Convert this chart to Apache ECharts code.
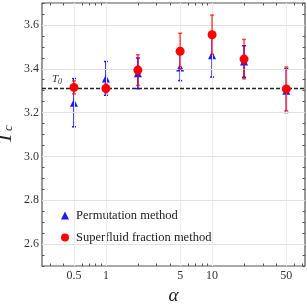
<!DOCTYPE html>
<html><head><meta charset="utf-8">
<script src="https://cdn.jsdelivr.net/npm/echarts@6/dist/echarts.min.js"></script>
<style>html,body{margin:0;padding:0;background:#fff}#c{width:307px;height:305px}</style>
</head><body><div id="c"></div>
<script>
const alphas = [0.5, 1, 2, 5, 10, 20, 50];
const permT = [3.245, 3.356, 3.379, 3.406, 3.462, 3.433, 3.300];
const permErr = [0.11, 0.077, 0.07, 0.06, 0.10, 0.072, 0.10];
const sfT = [3.315, 3.310, 3.394, 3.480, 3.555, 3.444, 3.308];
const sfErr = [0.03, 0.02, 0.07, 0.082, 0.09, 0.09, 0.10];
const T0 = 3.31;
const xTicks = [0.5, 1, 5, 10, 50];
const xMinorTicks = [0.3, 0.4, 0.6, 0.7, 0.8, 0.9, 2, 3, 4, 6, 7, 8, 9, 20, 30, 40, 60, 70];
const yTicks = [2.6, 2.8, 3.0, 3.2, 3.4, 3.6];
const yLabels = ['2.6', '2.8', '3.0', '3.2', '3.4', '3.6'];

const serif = '"Liberation Serif", "DejaVu Serif", serif';
const frame = '#555';
const chart = echarts.init(document.getElementById('c'), null, {renderer: 'canvas'});

function errSeries(vals, errs, color, lw, z) {
  return {
    type: 'custom', xAxisIndex: 0, yAxisIndex: 0, z: z, silent: true,
    data: alphas.map((a, i) => [a, vals[i] - errs[i], vals[i] + errs[i]]),
    encode: {x: 0, y: [1, 2]},
    renderItem: function (params, api) {
      const lo = api.coord([api.value(0), api.value(1)]);
      const hi = api.coord([api.value(0), api.value(2)]);
      const w = 2;
      const st = {stroke: color, lineWidth: lw};
      return {type: 'group', children: [
        {type: 'line', shape: {x1: lo[0], y1: lo[1], x2: hi[0], y2: hi[1]}, style: st},
        {type: 'line', shape: {x1: lo[0] - w, y1: lo[1], x2: lo[0] + w, y2: lo[1]}, style: st},
        {type: 'line', shape: {x1: hi[0] - w, y1: hi[1], x2: hi[0] + w, y2: hi[1]}, style: st}
      ]};
    }
  };
}

const xBase = {type: 'log', logBase: 10, min: 0.25, max: 75, gridIndex: 0};
const yBase = {type: 'value', min: 2.5, max: 3.7, gridIndex: 0};
const noLine = {show: false};

const option = {
  animation: false,
  backgroundColor: '#fff',
  grid: {left: 42, right: 2, top: 3, bottom: 39, containLabel: false, outerBoundsMode: 'none',
    show: true, borderColor: frame, borderWidth: 1.2, backgroundColor: 'transparent'},
  legend: {
    orient: 'vertical', left: 56, top: 204, itemGap: 9,
    itemWidth: 8, itemHeight: 8,
    textStyle: {fontFamily: serif, fontSize: 12.5, color: '#222', padding: [0, 0, 0, 2]},
    data: [{name: 'Permutation method', icon: 'triangle'}, {name: 'Superfluid fraction method', icon: 'circle'}]
  },
  xAxis: [
    Object.assign({}, xBase, {
      position: 'bottom',
      name: 'α', nameLocation: 'middle', nameGap: 20, nameMoveOverlap: false,
      nameTextStyle: {fontFamily: serif, fontStyle: 'italic', fontSize: 19, color: '#222'},
      axisLine: noLine, splitLine: noLine, minorTick: noLine,
      axisTick: {show: true, inside: true, length: 5, lineStyle: {color: frame}, customValues: xTicks},
      axisLabel: {show: true, margin: 4, fontFamily: serif, fontSize: 12, color: '#333', customValues: xTicks,
        formatter: v => String(+v.toPrecision(3))}
    }),
    Object.assign({}, xBase, {
      position: 'top', axisLine: noLine, splitLine: noLine, axisLabel: noLine,
      axisTick: {show: true, inside: true, length: 5, lineStyle: {color: frame}, customValues: xTicks}
    }),
    Object.assign({}, xBase, {
      position: 'bottom', axisLine: noLine, splitLine: noLine, axisLabel: noLine,
      axisTick: {show: true, inside: true, length: 2.5, lineStyle: {color: frame}, customValues: xMinorTicks}
    }),
    Object.assign({}, xBase, {
      position: 'top', axisLine: noLine, splitLine: noLine, axisLabel: noLine,
      axisTick: {show: true, inside: true, length: 2.5, lineStyle: {color: frame}, customValues: xMinorTicks}
    })
  ],
  yAxis: [
    Object.assign({}, yBase, {
      position: 'left',
      name: '{t|T}{s|c}', nameLocation: 'middle', nameGap: 26, nameRotate: 90, nameMoveOverlap: false,
      nameTextStyle: {rich: {
        t: {fontFamily: serif, fontStyle: 'italic', fontSize: 21, color: '#222'},
        s: {fontFamily: serif, fontStyle: 'italic', fontSize: 13, color: '#222', padding: [6, 0, 0, 1]}
      }},
      axisLine: noLine, splitLine: noLine,
      axisTick: {show: true, inside: true, length: 5, lineStyle: {color: frame}, customValues: yTicks},
      axisLabel: {show: true, margin: 3, fontFamily: serif, fontSize: 12, color: '#333', customValues: yTicks,
        formatter: v => yLabels[yTicks.findIndex(t => Math.abs(t - v) < 1e-6)] || ''}
    }),
    Object.assign({}, yBase, {
      position: 'right', axisLine: noLine, splitLine: noLine, axisLabel: noLine,
      axisTick: {show: true, inside: true, length: 5, lineStyle: {color: frame}, customValues: yTicks}
    }),
    Object.assign({}, yBase, {
      position: 'left', interval: 0.05, axisLine: noLine, splitLine: noLine, axisLabel: noLine,
      axisTick: {show: true, inside: true, length: 2.5, lineStyle: {color: frame}}
    }),
    Object.assign({}, yBase, {
      position: 'right', interval: 0.05, axisLine: noLine, splitLine: noLine, axisLabel: noLine,
      axisTick: {show: true, inside: true, length: 2.5, lineStyle: {color: frame}}
    })
  ],
  series: [
    {
      type: 'line', xAxisIndex: 0, yAxisIndex: 0, data: [], silent: true, z: 1,
      markLine: {
        silent: true, symbol: 'none', animation: false,
        label: {show: false},
        data: xTicks.map(v => ({xAxis: v, lineStyle: {color: '#ececec', width: 1, type: 'solid'}}))
          .concat(yTicks.map(v => ({yAxis: v, lineStyle: {color: '#e2e2e2', width: 1.2, type: 'solid'}})))
      }
    },
    {
      type: 'line', xAxisIndex: 0, yAxisIndex: 0, data: [], silent: true, z: 2,
      markLine: {
        silent: true, symbol: 'none', animation: false,
        lineStyle: {color: '#222', width: 1.3, type: [4, 2]},
        label: {show: true, position: 'insideStartTop', distance: [10, 3],
          formatter: '{t|T}{s|0}',
          rich: {
            t: {fontFamily: serif, fontStyle: 'italic', fontSize: 11, color: '#333'},
            s: {fontFamily: serif, fontStyle: 'italic', fontSize: 8, color: '#333', padding: [4, 0, 0, 0]}
          }},
        data: [{yAxis: T0}]
      }
    },
    errSeries(permT, permErr, 'rgba(10,10,255,0.95)', 1.5, 3),
    {
      name: 'Permutation method', type: 'scatter', xAxisIndex: 0, yAxisIndex: 0, z: 4,
      symbol: 'triangle', symbolSize: 8, itemStyle: {color: '#1a1aff', opacity: 1},
      data: alphas.map((a, i) => [a, permT[i]])
    },
    errSeries(sfT, sfErr, 'rgba(255,0,0,0.7)', 1.5, 5),
    {
      name: 'Superfluid fraction method', type: 'scatter', xAxisIndex: 0, yAxisIndex: 0, z: 6,
      symbol: 'circle', symbolSize: 9, itemStyle: {color: '#ff0000', opacity: 1},
      data: alphas.map((a, i) => [a, sfT[i]])
    }
  ]
};
chart.setOption(option);
</script>
</body></html>
